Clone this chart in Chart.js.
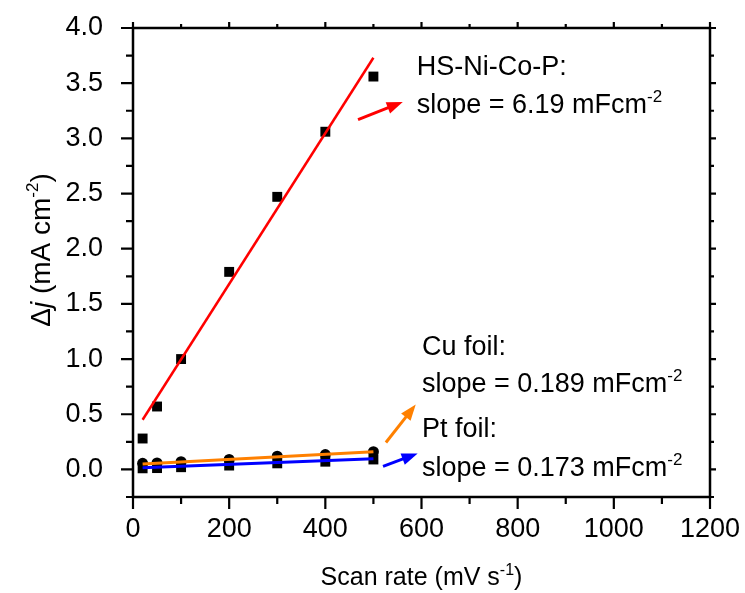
<!DOCTYPE html>
<html>
<head>
<meta charset="utf-8">
<script src="https://cdn.jsdelivr.net/npm/chart.js@4/dist/chart.umd.min.js"></script>
<style>
  html, body { margin: 0; padding: 0; background: #fff; }
</style>
</head>
<body>
<canvas id="chart" width="745" height="593"></canvas>
<script>
// scan rates (mV/s) and measured current density differences
var scanRate = [20, 50, 100, 200, 300, 400, 500];
var hsNiCoP = [0.28, 0.57, 1.00, 1.79, 2.47, 3.06, 3.56];
var cuFoil = [0.055, 0.058, 0.07, 0.09, 0.12, 0.135, 0.16];
var ptFoil = [0.01, 0.012, 0.02, 0.035, 0.055, 0.07, 0.09];

// linear fits, read at the two ends
var fitX = [20, 500];
var hsFit = [0.45, 3.73];
var cuFit = [0.05, 0.16];
var ptFit = [0.015, 0.097];

var xTicks = [0, 200, 400, 600, 800, 1000, 1200];
var yTicks = [0, 0.5, 1.0, 1.5, 2.0, 2.5, 3.0, 3.5, 4.0];

var FONT = "'Liberation Sans', Arial, sans-serif";

function pts(xs, ys) {
    return xs.map(function (x, i) { return { x: x, y: ys[i] }; });
}

// text pieces: plain, italic or superscript
function drawRich(ctx, parts, x, y, size, align) {
    var supSize = Math.round(size * 0.62);
    function fontFor(p) {
        return (p.italic ? 'italic ' : '') + (p.sup ? supSize : size) + 'px ' + FONT;
    }
    var w = 0;
    parts.forEach(function (p) { ctx.font = fontFor(p); w += ctx.measureText(p.t).width; });
    var cx = align === 'center' ? x - w / 2 : x;
    ctx.textBaseline = 'alphabetic';
    ctx.textAlign = 'left';
    parts.forEach(function (p) {
        ctx.font = fontFor(p);
        ctx.fillText(p.t, cx, p.sup ? y - size * 0.42 : y);
        cx += ctx.measureText(p.t).width;
    });
}

function arrow(ctx, x1, y1, x2, y2, color) {
    var a = Math.atan2(y2 - y1, x2 - x1);
    var hl = 16, hw = 6;
    ctx.save();
    ctx.strokeStyle = color;
    ctx.fillStyle = color;
    ctx.lineWidth = 3;
    ctx.beginPath();
    ctx.moveTo(x1, y1);
    ctx.lineTo(x2 - Math.cos(a) * hl * 0.8, y2 - Math.sin(a) * hl * 0.8);
    ctx.stroke();
    ctx.beginPath();
    ctx.moveTo(x2, y2);
    ctx.lineTo(x2 - Math.cos(a) * hl + Math.sin(a) * hw, y2 - Math.sin(a) * hl - Math.cos(a) * hw);
    ctx.lineTo(x2 - Math.cos(a) * hl - Math.sin(a) * hw, y2 - Math.sin(a) * hl + Math.cos(a) * hw);
    ctx.closePath();
    ctx.fill();
    ctx.restore();
}

var notes = [
    { x: 590, y: 3.575, parts: [{ t: 'HS-Ni-Co-P:' }] },
    { x: 590, y: 3.23, parts: [{ t: 'slope = 6.19 mFcm' }, { t: '-2', sup: true }] },
    { x: 601, y: 1.04, parts: [{ t: 'Cu foil:' }] },
    { x: 601, y: 0.697, parts: [{ t: 'slope = 0.189 mFcm' }, { t: '-2', sup: true }] },
    { x: 601, y: 0.29, parts: [{ t: 'Pt foil:' }] },
    { x: 601, y: -0.063, parts: [{ t: 'slope = 0.173 mFcm' }, { t: '-2', sup: true }] }
];

var arrows = [
    { from: [468, 3.17], to: [561, 3.33], color: '#ff0000' },
    { from: [526, 0.244], to: [588, 0.588], color: '#ff8000' },
    { from: [520, 0.027], to: [592, 0.145], color: '#0000ff' }
];

var framePlugin = {
    id: 'frame',
    afterDraw: function (chart) {
        var ctx = chart.ctx, a = chart.chartArea;
        var xs = chart.scales.x, ys = chart.scales.y;
        ctx.save();
        ctx.strokeStyle = '#000';
        ctx.lineWidth = 2.5;
        ctx.strokeRect(a.left, a.top, a.right - a.left, a.bottom - a.top);

        ctx.lineWidth = 2.2;
        ctx.beginPath();
        // x ticks, major and minor
        for (var v = 0; v <= 1200; v += 100) {
            var px = xs.getPixelForValue(v);
            var major = v % 200 === 0;
            ctx.moveTo(px, a.bottom);
            ctx.lineTo(px, a.bottom + (major ? 12 : 7));
            ctx.moveTo(px, a.top);
            ctx.lineTo(px, a.top - (major ? 6 : 4));
        }
        // y ticks, major and minor
        for (var k = -1; k <= 16; k++) {
            var py = ys.getPixelForValue(k * 0.25);
            var maj = k % 2 === 0;
            ctx.moveTo(a.left, py);
            ctx.lineTo(a.left - (maj ? 12 : 7), py);
            ctx.moveTo(a.right, py);
            ctx.lineTo(a.right + (maj ? 6 : 4), py);
        }
        ctx.stroke();

        arrows.forEach(function (ar) {
            arrow(ctx, xs.getPixelForValue(ar.from[0]), ys.getPixelForValue(ar.from[1]),
                xs.getPixelForValue(ar.to[0]), ys.getPixelForValue(ar.to[1]), ar.color);
        });

        ctx.fillStyle = '#000';
        notes.forEach(function (n) {
            drawRich(ctx, n.parts, xs.getPixelForValue(n.x), ys.getPixelForValue(n.y), 27, 'left');
        });

        // axis titles
        drawRich(ctx, [{ t: 'Scan rate (mV s' }, { t: '-1', sup: true }, { t: ')' }],
            (a.left + a.right) / 2, 585, 25, 'center');
        ctx.translate(50, 250);
        ctx.rotate(-Math.PI / 2);
        drawRich(ctx, [{ t: '\u0394' }, { t: 'j', italic: true }, { t: ' (mA cm' }, { t: '-2', sup: true }, { t: ')' }],
            0, 0, 28, 'center');
        ctx.restore();
    }
};

var chart = new Chart(document.getElementById('chart'), {
    type: 'scatter',
    data: {
        datasets: [
            { type: 'line', label: 'HS fit', data: pts(fitX, hsFit), borderColor: '#ff0000', borderWidth: 2.5, pointRadius: 0 },
            { type: 'line', label: 'Cu fit', data: pts(fitX, cuFit), borderColor: '#ff8000', borderWidth: 3, pointRadius: 0 },
            { type: 'line', label: 'Pt fit', data: pts(fitX, ptFit), borderColor: '#0000ff', borderWidth: 3, pointRadius: 0 },
            { label: 'HS-Ni-Co-P', data: pts(scanRate, hsNiCoP), pointStyle: 'rect', pointRadius: 7, backgroundColor: '#000', borderWidth: 0 },
            { label: 'Cu foil', data: pts(scanRate, cuFoil), pointStyle: 'circle', pointRadius: 5.5, backgroundColor: '#000', borderWidth: 0 },
            { label: 'Pt foil', data: pts(scanRate, ptFoil), pointStyle: 'rect', pointRadius: 7, backgroundColor: '#000', borderWidth: 0 }
        ]
    },
    options: {
        responsive: false,
        animation: false,
        layout: { padding: { top: 28, right: 35, left: 0, bottom: 0 } },
        plugins: { legend: { display: false }, tooltip: { enabled: false } },
        scales: {
            x: {
                type: 'linear', min: 0, max: 1200,
                grid: { display: false }, border: { display: false },
                afterFit: function (s) { s.height = 96; s.paddingLeft = 0; s.paddingRight = 0; },
                afterBuildTicks: function (s) { s.ticks = xTicks.map(function (v) { return { value: v }; }); },
                ticks: { padding: 8, color: '#000', font: { family: FONT, size: 27 }, maxRotation: 0,
                    callback: function (v) { return String(v); } }
            },
            y: {
                type: 'linear', min: -0.25, max: 4.0,
                grid: { display: false }, border: { display: false },
                afterFit: function (s) { s.width = 133; s.paddingTop = 0; s.paddingBottom = 0; },
                afterBuildTicks: function (s) { s.ticks = yTicks.map(function (v) { return { value: v }; }); },
                ticks: { padding: 22, color: '#000', font: { family: FONT, size: 27 },
                    callback: function (v) { return Number(v).toFixed(1); } }
            }
        }
    },
    plugins: [framePlugin]
});
</script>
</body>
</html>
